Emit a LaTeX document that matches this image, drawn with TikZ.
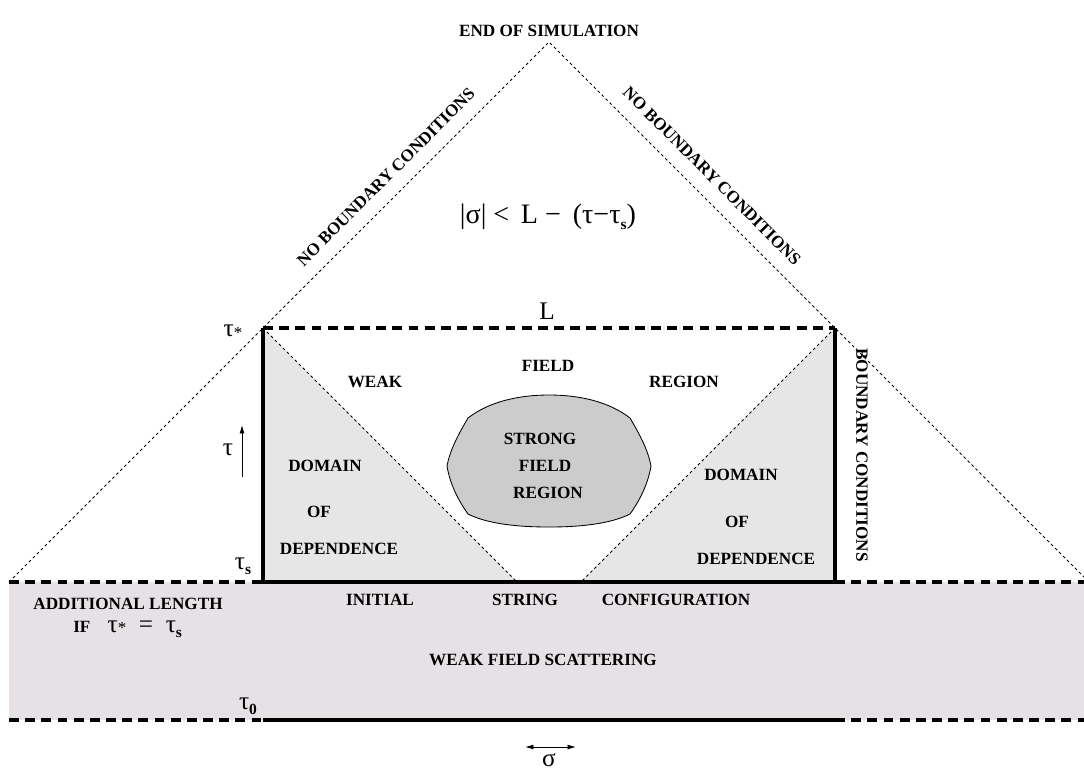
\documentclass[tikz,border=0pt]{standalone}
\usepackage{fontspec}
\setmainfont{Liberation Serif}
\usetikzlibrary{arrows.meta}

\definecolor{bandgray}{RGB}{229,225,229}
\definecolor{domaingray}{RGB}{230,230,230}
\definecolor{blobgray}{RGB}{204,204,204}

\newcommand{\idx}[1]{\raisebox{-0.45ex}{\fontsize{11}{11}\selectfont\bfseries #1}}
\newcommand{\astsub}{\raisebox{-0.15ex}{\fontsize{12}{12}\selectfont *}}

\begin{document}
\begin{tikzpicture}[
x=0.025cm, y=-0.025cm,
tag/.style={font=\bfseries\fontsize{12.2}{14}\selectfont, inner sep=0pt},
sym/.style={font=\fontsize{18}{20}\selectfont, inner sep=0pt},
wall/.style={line width=2.2pt},
cut/.style={line width=2.2pt, dash pattern=on 7pt off 4.5pt},
cone/.style={line width=0.6pt, dash pattern=on 2pt off 2pt},
arrow/.style={-{Latex[length=6pt, width=3.5pt]}, line width=0.6pt},
]
\useasboundingbox (0,0) rectangle (1084,772);
\clip (0,0) rectangle (1084,772);

% corner points
\coordinate (apex) at (549,42);
\coordinate (bl) at (9,582);
\coordinate (br) at (1089,582);
\coordinate (sl) at (263,582);
\coordinate (sr) at (835,582);
\coordinate (tl) at (263,328);
\coordinate (tr) at (835,328);
\coordinate (ml) at (517,582);
\coordinate (mr) at (581,582);
\coordinate (zl) at (9,720);
\coordinate (zr) at (1089,720);
\coordinate (z1) at (263,720);
\coordinate (z2) at (835,720);

% shaded areas
\fill[bandgray] (bl) rectangle (zr);
\fill[domaingray] (tl) -- (sl) -- (ml) -- cycle;
\fill[domaingray] (tr) -- (sr) -- (mr) -- cycle;

% light cones
\draw[cone] (bl) -- (apex) -- (br);
\draw[cone] (tl) -- (ml);
\draw[cone] (tr) -- (mr);

% box and cuts
\draw[wall] (tl) -- (sl) -- (sr) -- (tr);
\draw[cut] (tl) -- (tr);
\draw[cut] (bl) -- (sl);
\draw[cut] (sr) -- (br);
\draw[cut] (zl) -- (z1);
\draw[wall] (z1) -- (z2);
\draw[cut] (z2) -- (zr);

% strong field blob
\draw[fill=blobgray, line width=0.6pt]
  (468,418) .. controls (490,401) and (520,395) .. (549,395)
  .. controls (578,395) and (608,401) .. (630,418)
  .. controls (640,435) and (648,450) .. (651,466)
  .. controls (648,484) and (640,500) .. (630,514)
  .. controls (610,524) and (580,527) .. (549,527)
  .. controls (518,527) and (488,524) .. (468,514)
  .. controls (458,500) and (450,484) .. (447,466)
  .. controls (450,450) and (458,435) .. cycle;

% axes
\coordinate (t0) at (242,477);
\coordinate (t1) at (242,425);
\draw[arrow] (t0) -- (t1);
\coordinate (s0) at (525,747);
\coordinate (s1) at (576,747);
\draw[arrow, {Latex[length=6pt, width=3.5pt]}-{Latex[length=6pt, width=3.5pt]}] (s0) -- (s1);

% labels
\node[tag] (end) at (549,31) {END OF SIMULATION};
\node[tag, rotate=45] (nbl) at (386,177) {NO BOUNDARY CONDITIONS};
\node[tag, rotate=-45] (nbr) at (712,176) {NO BOUNDARY CONDITIONS};
\node[tag, rotate=-90] (bc) at (862,455) {BOUNDARY CONDITIONS};
\node[sym, font=\fontsize{20}{22}\selectfont] (bound) at (548,217) {|σ| <\, L − \,(τ−τ\idx{s})};
\node[sym] (len) at (547,311) {L};
\node[sym] (tstar) at (233,332) {τ\astsub};
\node[sym] (ts) at (243,566) {τ\idx{s}};
\node[sym] (tau) at (228,450) {τ};
\node[sym] (t00) at (248,706) {τ\idx{0}};
\node[sym] (sig) at (549,760) {σ};

\node[tag] (weak) at (375,382) {WEAK};
\node[tag] (field) at (548,366) {FIELD};
\node[tag] (region) at (684,382) {REGION};
\node[tag] (dl1) at (325,466) {DOMAIN};
\node[tag] (dl2) at (319,512) {OF};
\node[tag] (dl3) at (339,549) {DEPENDENCE};
\node[tag] (dr1) at (741,475) {DOMAIN};
\node[tag] (dr2) at (737,522) {OF};
\node[tag] (dr3) at (756,559) {DEPENDENCE};
\node[tag] (sf1) at (540,439) {STRONG};
\node[tag] (sf2) at (545,466) {FIELD};
\node[tag] (sf3) at (548,493) {REGION};

\node[tag] (init) at (380,600) {INITIAL};
\node[tag] (str) at (525,600) {STRING};
\node[tag] (conf) at (676,600) {CONFIGURATION};
\node[tag] (add) at (128,604) {ADDITIONAL LENGTH};
\node[tag, anchor=west] (iff) at (73,629) {IF\quad{\mdseries\fontsize{18}{20}\selectfont τ\astsub\ \ =\ \ τ\idx{s}}};
\node[tag] (scat) at (543,660) {WEAK FIELD SCATTERING};

\end{tikzpicture}
\end{document}
